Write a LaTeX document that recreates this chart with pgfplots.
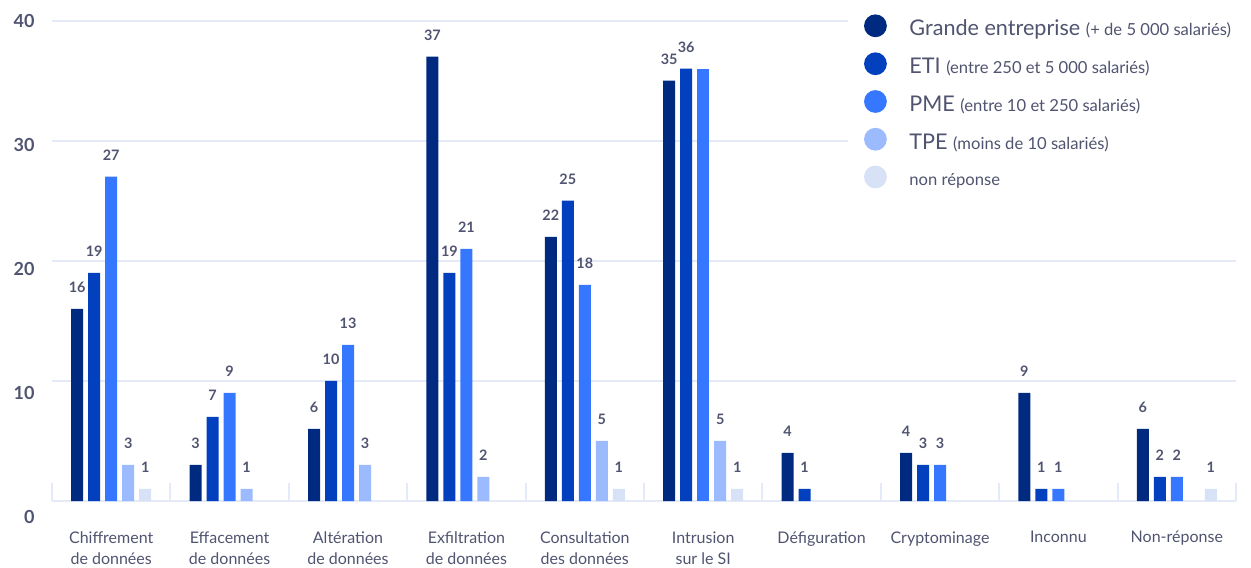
\documentclass[border=0pt]{standalone}
\usepackage{fontspec}
\setmainfont{Lato}
\usepackage{pgfplots}
\pgfplotsset{compat=1.18}
\pgfplotsset{/pgf/number format/assume math mode=true}
\definecolor{gec}{HTML}{002A7F}
\definecolor{etic}{HTML}{0340BE}
\definecolor{pmec}{HTML}{3578FF}
\definecolor{tpec}{HTML}{9CBBFF}
\definecolor{nrc}{HTML}{D7E2F6}
\definecolor{txtc}{HTML}{505470}
\definecolor{gridc}{HTML}{E4EAF8}
\newcommand{\legsmall}{\fontsize{8.3}{10}\selectfont}
\begin{document}
\begin{tikzpicture}
\begin{axis}[
  scale only axis, width=592pt, height=240.2pt,
  xmin=-0.5, xmax=9.5, ymin=0, ymax=40,
  ybar, bar width=6pt,
  axis line style={draw=none},
  tick pos=left,
  xtick={0,...,9},
  xticklabels={{Chiffrement\\de données},{Effacement\\de données},{Altération\\de données},{Exfiltration\\de données},{Consultation\\des données},{Intrusion\\sur le SI},{Défiguration},{Cryptominage},{Inconnu},{Non-réponse}},
  xticklabel style={align=center, anchor=north, inner sep=0pt, yshift=-15pt, font=\fontsize{8}{10.5}\selectfont, text=txtc},
  minor xtick={-0.5,0.5,...,9.5},
  major tick length=0pt, minor tick length=9pt, tick align=inside,
  minor tick style={draw=gridc, line width=1pt},
  ytick={0,10,20,30,40},
  ymajorgrids, major grid style={draw=gridc, line width=1pt},
  yticklabel style={anchor=east, inner sep=0pt, xshift=-8.5pt, font=\fontsize{9}{10}\selectfont\bfseries, text=txtc},
  yticklabel={\pgfmathsetlengthmacro\ys{(\ticknum-4)*2pt}\raisebox{\ys}[\height][\depth]{\pgfmathprintnumber{\tick}}},
  every node near coord/.append style={font=\fontsize{7.2}{8}\selectfont\bfseries, text=txtc, inner sep=0pt, yshift=8pt},
  legend style={at={(0.672,1.0304)}, anchor=north west, draw=none, fill=white, inner xsep=8pt, inner ysep=4pt, row sep=6.75pt, column sep=11.3pt, font=\fontsize{10.8}{12}\selectfont, text=txtc, nodes={inner sep=0pt}},
  legend cell align=left,
]
\addplot[fill=gec, draw=none, bar shift=-17pt, nodes near coords, legend image code/.code={\fill[gec] (0pt,1.8pt) circle (5.7pt);}]
  coordinates {(0,16) (1,3) (2,6) (3,37) (4,22) (5,35) (6,4) (7,4) (8,9) (9,6)};
\addlegendentry{Grande entreprise {\legsmall(+ de 5~000 salariés)}}
\addplot[fill=etic, draw=none, bar shift=-8.5pt, nodes near coords, legend image code/.code={\fill[etic] (0pt,1.8pt) circle (5.7pt);}]
  coordinates {(0,19) (1,7) (2,10) (3,19) (4,25) (5,36) (6,1) (7,3) (8,1) (9,2)};
\addlegendentry{ETI {\legsmall(entre 250 et 5~000 salariés)}}
\addplot[fill=pmec, draw=none, bar shift=0pt, nodes near coords, legend image code/.code={\fill[pmec] (0pt,1.8pt) circle (5.7pt);}]
  coordinates {(0,27) (1,9) (2,13) (3,21) (4,18) (7,3) (8,1) (9,2)};
\addlegendentry{PME {\legsmall(entre 10 et 250 salariés)}}
\addplot[fill=pmec, draw=none, bar shift=0pt, forget plot]
  coordinates {(5,36)};
\addplot[fill=tpec, draw=none, bar shift=8.5pt, nodes near coords, legend image code/.code={\fill[tpec] (0pt,1.8pt) circle (5.7pt);}]
  coordinates {(0,3) (1,1) (2,3) (3,2) (4,5) (5,5)};
\addlegendentry{TPE {\legsmall(moins de 10 salariés)}}
\addplot[fill=nrc, draw=none, bar shift=17pt, nodes near coords, legend image code/.code={\fill[nrc] (0pt,1.8pt) circle (5.7pt);}]
  coordinates {(0,1) (4,1) (5,1) (9,1)};
\addlegendentry{{\legsmall non réponse}}
\end{axis}
\path (current axis.south west) ++(-26pt,-33pt) coordinate (bbA);
\path (current axis.north east) ++(7.5pt,10.3pt) coordinate (bbB);
\pgfresetboundingbox
\useasboundingbox (bbA) rectangle (bbB);
\end{tikzpicture}
\end{document}
